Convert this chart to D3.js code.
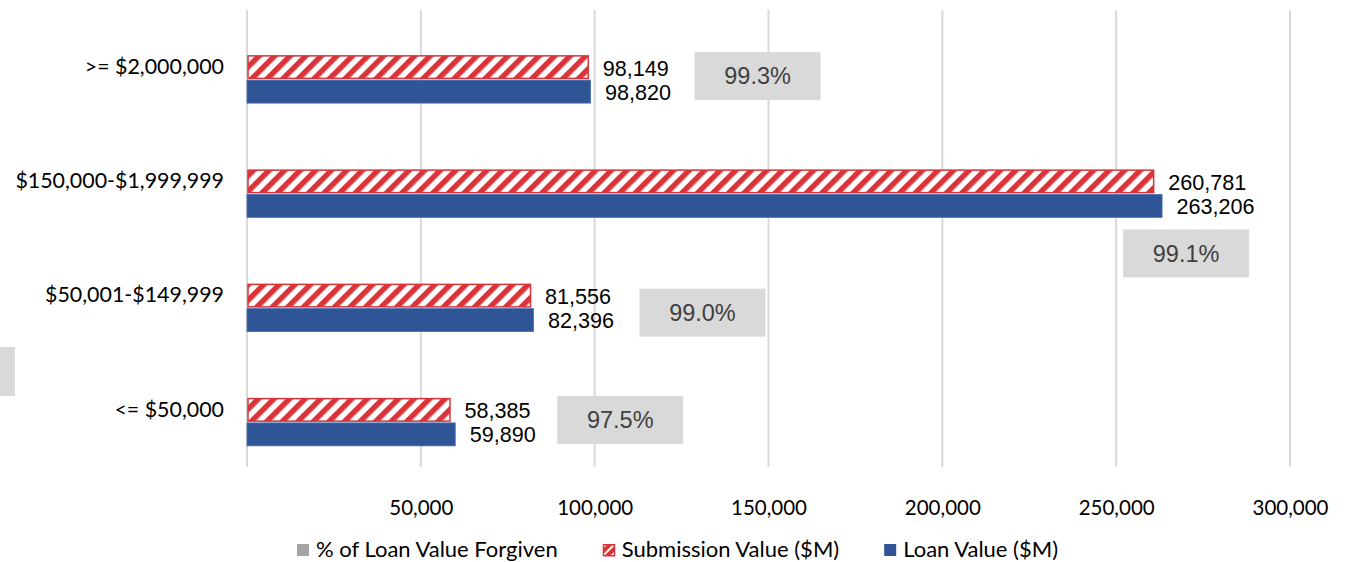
<!DOCTYPE html>
<html><head><meta charset="utf-8">
<script src="https://cdn.jsdelivr.net/npm/d3@7"></script>
<style>
html,body{margin:0;padding:0;background:#fff;}
svg{display:block;}
</style></head>
<body>
<svg id="chart" width="1352" height="562"></svg>
<script>
// ---- data ----
const categories = [">= $2,000,000", "$150,000-$1,999,999", "$50,001-$149,999", "<= $50,000"];
const submissionValues = [98149, 260781, 81556, 58385];
const loanValues = [98820, 263206, 82396, 59890];
const pctForgiven = [99.3, 99.1, 99.0, 97.5];
const xTicks = [50000, 100000, 150000, 200000, 250000, 300000];
const seriesNames = ["% of Loan Value Forgiven", "Submission Value ($M)", "Loan Value ($M)"];
// manual nudges of the % labels (pixels, relative to loan bar end / category centre)
const pctLabelNudge = [[104, 9], [-39, 72], [106, 17], [102, 10]];

const W = 1352, H = 562;
const plot = {left: 247, right: 1290, top: 10, bottom: 467};
const svg = d3.select("#chart");
const FONT_C = "Lato, 'Open Sans', sans-serif";
const FONT_A = "'Liberation Sans', Arial, sans-serif";
const RED = "#d8343a", BLUE = "#2f5597", GRID = "#d9d9d9", BOXGRAY = "#d9d9d9";

const x = d3.scaleLinear().domain([0, 300000]).range([plot.left, plot.right]);
const y = d3.scaleBand().domain(categories).range([plot.top, plot.bottom]).paddingInner(0.37).paddingOuter(0.185);
const ys = d3.scaleBand().domain(seriesNames).range([0, y.bandwidth()]);

// pattern
const defs = svg.append("defs");
const pat = defs.append("pattern").attr("id", "hatch").attr("patternUnits", "userSpaceOnUse")
  .attr("width", 11).attr("height", 11).attr("patternTransform", "rotate(45)");
pat.append("rect").attr("width", 11).attr("height", 11).attr("fill", "#fff");
pat.append("rect").attr("width", 5.5).attr("height", 11).attr("fill", RED);

const pat2 = defs.append("pattern").attr("id", "hatchSmall").attr("patternUnits", "userSpaceOnUse")
  .attr("width", 6).attr("height", 6).attr("patternTransform", "rotate(45)");
pat2.append("rect").attr("width", 6).attr("height", 6).attr("fill", "#fff");
pat2.append("rect").attr("width", 4).attr("height", 6).attr("fill", RED);

// gridlines (including 0)
const gridTicks = [0].concat(xTicks);
svg.append("g").selectAll("line").data(gridTicks).join("line")
  .attr("x1", d => x(d)).attr("x2", d => x(d))
  .attr("y1", plot.top).attr("y2", plot.bottom)
  .attr("stroke", GRID).attr("stroke-width", 2);

// x axis labels
const xAxis = d3.axisBottom(x).tickValues(xTicks).tickFormat(d3.format(",")).tickSize(0).tickPadding(0);
const gx = svg.append("g").attr("transform", `translate(0,${plot.bottom + 41})`).call(xAxis);
gx.select(".domain").remove();
gx.selectAll("text").attr("font-family", FONT_C).attr("font-size", 20.5).attr("fill", "#000").attr("dy", "0.32em");

// y axis labels
const yAxis = d3.axisLeft(y).tickSize(0).tickPadding(0);
const gy = svg.append("g").attr("transform", `translate(${plot.left - 23},0)`).call(yAxis);
gy.select(".domain").remove();
gy.selectAll("text").attr("font-family", FONT_C).attr("font-size", 21.4).attr("fill", "#000").attr("dy", "0.32em");

const rows = categories.map((c, i) => ({c, i, sub: submissionValues[i], loan: loanValues[i], pct: pctForgiven[i]}));

// submission bars
svg.append("g").selectAll("rect").data(rows).join("rect")
  .attr("x", x(0) + 1).attr("y", d => y(d.c) + ys(seriesNames[1]) + 0.75)
  .attr("width", d => x(d.sub) - x(0) - 1).attr("height", ys.bandwidth() - 1.5)
  .attr("fill", "url(#hatch)").attr("stroke", RED).attr("stroke-width", 1.5);

// loan bars
svg.append("g").selectAll("rect").data(rows).join("rect")
  .attr("x", x(0)).attr("y", d => y(d.c) + ys(seriesNames[2]) + 1)
  .attr("width", d => x(d.loan) - x(0)).attr("height", ys.bandwidth() - 1)
  .attr("fill", BLUE).attr("stroke", "#4a6fb0").attr("stroke-width", 0.8);

// value labels
const fmt = d3.format(",");
svg.append("g").selectAll("text").data(rows).join("text")
  .attr("x", d => x(d.sub) + 14.5).attr("y", d => y(d.c) + ys(seriesNames[1]) + ys.bandwidth() / 2 + 1)
  .attr("dy", "0.35em").attr("font-family", FONT_A).attr("font-size", 21.6).attr("fill", "#000")
  .text(d => fmt(d.sub));
svg.append("g").selectAll("text").data(rows).join("text")
  .attr("x", d => x(d.loan) + 14.5).attr("y", d => y(d.c) + ys(seriesNames[2]) + ys.bandwidth() / 2 + 1)
  .attr("dy", "0.35em").attr("font-family", FONT_A).attr("font-size", 21.6).attr("fill", "#000")
  .text(d => fmt(d.loan));

// % labels in gray boxes
const boxW = 126, boxH = 48;
const pg = svg.append("g").selectAll("g").data(rows).join("g")
  .attr("transform", d => {
    const n = pctLabelNudge[d.i];
    const cx = x(d.loan) + n[0];
    const cy = y(d.c) + y.bandwidth() / 2 + n[1];
    return `translate(${cx},${cy - boxH / 2})`;
  });
pg.append("rect").attr("width", boxW).attr("height", boxH).attr("fill", BOXGRAY);
pg.append("text").attr("x", boxW / 2).attr("y", boxH / 2).attr("dy", "0.35em")
  .attr("text-anchor", "middle").attr("font-family", FONT_A).attr("font-size", 23.5).attr("fill", "#404040")
  .text(d => d.pct.toFixed(1) + "%");

// stray label box at left edge
svg.append("rect").attr("x", -111).attr("y", 347).attr("width", boxW).attr("height", 49).attr("fill", BOXGRAY);

// legend
const legend = svg.append("g").attr("transform", "translate(297,549)");
let lx = 0;
seriesNames.forEach((name, i) => {
  const g = legend.append("g").attr("transform", `translate(${lx},0)`);
  if (i === 0) g.append("rect").attr("x", 0).attr("y", -5).attr("width", 12).attr("height", 12).attr("fill", "#a5a5a5");
  if (i === 1) g.append("rect").attr("x", 0.75).attr("y", -4.25).attr("width", 11).attr("height", 11).attr("fill", "url(#hatchSmall)").attr("stroke", RED).attr("stroke-width", 1.5);
  if (i === 2) g.append("rect").attr("x", 0).attr("y", -5).attr("width", 12).attr("height", 12).attr("fill", BLUE);
  const t = g.append("text").attr("x", 19).attr("y", 0).attr("dy", "0.35em")
    .attr("font-family", FONT_C).attr("font-size", 22).attr("fill", "#000").text(name);
  lx += 19 + t.node().getComputedTextLength() + 45;
});
</script>
</body></html>
